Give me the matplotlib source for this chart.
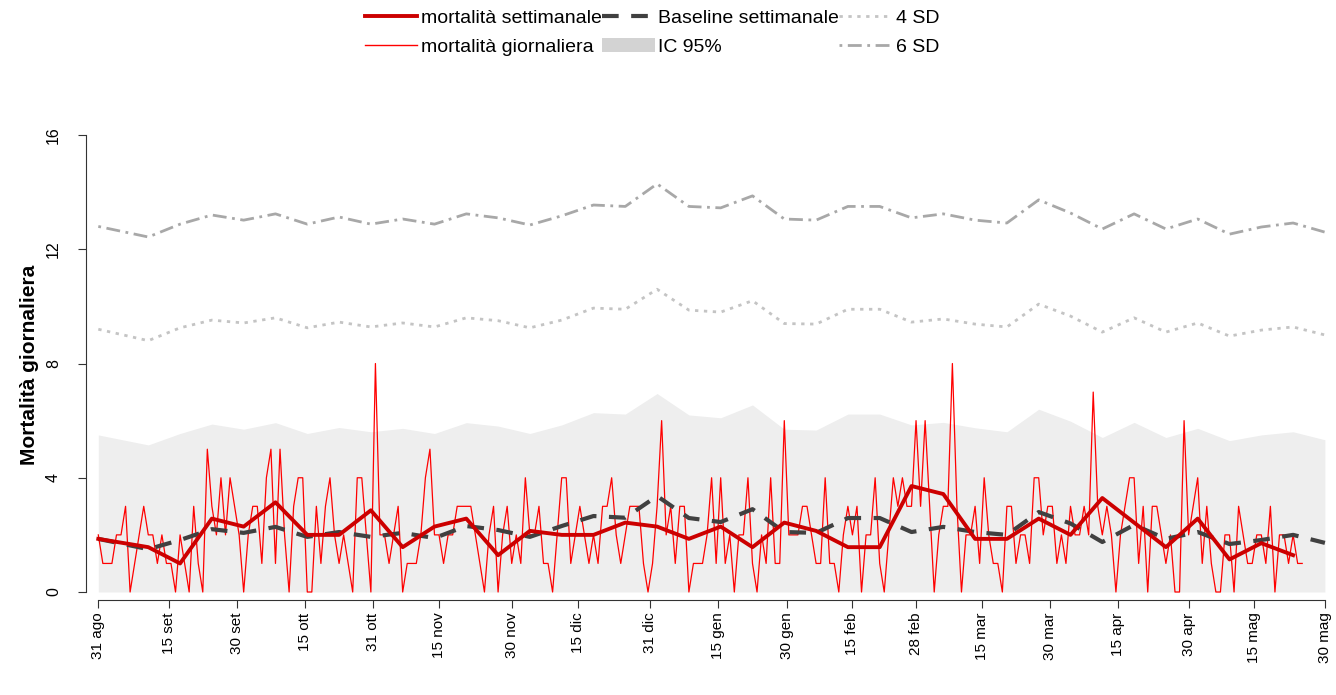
import matplotlib
matplotlib.use("Agg")
import matplotlib.pyplot as plt
from matplotlib.patches import Patch
from matplotlib.lines import Line2D
import numpy as np

plt.rcParams['font.family'] = ['Liberation Sans', 'DejaVu Sans']

# daily deaths, one value per day starting 31 Aug
daily = [2, 1, 1, 1, 2, 2, 3, 0, 1, 2,
         3, 2, 2, 1, 2, 1, 1, 0, 2, 1,
         0, 3, 1, 0, 5, 3, 2, 4, 2, 4,
         3, 2, 0, 2, 3, 3, 1, 4, 5, 1,
         5, 2, 0, 3, 4, 4, 0, 0, 3, 1,
         3, 4, 2, 1, 2, 1, 0, 4, 4, 2,
         0, 8, 2, 2, 1, 2, 3, 0, 1, 1,
         1, 2, 4, 5, 2, 2, 1, 2, 2, 3,
         3, 3, 3, 2, 1, 0, 2, 3, 0, 2,
         3, 1, 2, 1, 4, 2, 2, 3, 1, 1,
         0, 2, 4, 4, 1, 2, 3, 2, 1, 2,
         1, 3, 3, 4, 2, 1, 2, 3, 3, 3,
         1, 0, 1, 3, 6, 2, 3, 1, 3, 3,
         0, 1, 1, 1, 2, 4, 1, 4, 1, 2,
         0, 2, 2, 4, 1, 0, 2, 1, 4, 1,
         1, 6, 2, 2, 2, 3, 3, 2, 1, 1,
         4, 1, 1, 0, 2, 3, 2, 3, 0, 2,
         2, 4, 1, 0, 2, 4, 3, 4, 3, 3,
         6, 3, 6, 3, 0, 2, 3, 3, 8, 3,
         0, 2, 2, 3, 1, 4, 2, 1, 1, 0,
         3, 3, 1, 2, 2, 1, 4, 4, 2, 3,
         3, 1, 2, 1, 3, 2, 2, 3, 2, 7,
         3, 2, 3, 2, 0, 2, 3, 4, 4, 1,
         3, 0, 3, 3, 2, 1, 2, 0, 0, 6,
         2, 3, 4, 1, 3, 1, 0, 0, 2, 2,
         0, 3, 2, 1, 1, 2, 2, 1, 3, 0,
         2, 2, 1, 2, 1, 1]

# weekly points (day index)
week_days = [0] + list(range(11, 271, 7))

weekly = [1.86, 1.57, 1.0, 2.57, 2.29, 3.14, 2.0, 2.0, 2.86, 1.57,
          2.29, 2.57, 1.29, 2.14, 2.0, 2.0, 2.43, 2.29, 1.86, 2.29,
          1.57, 2.43, 2.14, 1.57, 1.57, 3.71, 3.43, 1.86, 1.86, 2.57,
          2.0, 3.29, 2.43, 1.57, 2.57, 1.14, 1.71, 1.29]

baseline = [1.86, 1.5, 1.82, 2.2, 2.07, 2.28, 1.93, 2.1, 1.93, 2.07,
            1.89, 2.31, 2.17, 1.93, 2.31, 2.66, 2.6, 3.36, 2.59, 2.45,
            2.9, 2.1, 2.07, 2.59, 2.59, 2.1, 2.28, 2.1, 2.0, 2.8,
            2.4, 1.75, 2.35, 1.86, 2.1, 1.68, 1.82, 2.0, 1.72]

ic95_upper = [5.5, 5.15, 5.55, 5.88, 5.7, 5.93, 5.55, 5.76, 5.61, 5.73,
              5.55, 5.93, 5.81, 5.55, 5.85, 6.28, 6.23, 6.95, 6.2, 6.1,
              6.55, 5.7, 5.67, 6.23, 6.23, 5.85, 5.94, 5.75, 5.61, 6.4,
              5.98, 5.41, 5.94, 5.41, 5.73, 5.3, 5.5, 5.61, 5.33]

sd4 = [9.2, 8.8, 9.25, 9.52, 9.42, 9.6, 9.25, 9.45, 9.28, 9.42,
       9.28, 9.6, 9.5, 9.25, 9.52, 9.94, 9.9, 10.6, 9.87, 9.8,
       10.2, 9.4, 9.38, 9.9, 9.9, 9.45, 9.56, 9.38, 9.28, 10.08,
       9.66, 9.1, 9.6, 9.1, 9.42, 8.96, 9.17, 9.28, 9.0]

sd6 = [12.8, 12.43, 12.88, 13.2, 13.02, 13.24, 12.88, 13.13, 12.88, 13.06,
       12.88, 13.24, 13.1, 12.85, 13.17, 13.55, 13.5, 14.29, 13.5, 13.45,
       13.87, 13.06, 13.02, 13.5, 13.5, 13.1, 13.24, 13.02, 12.92, 13.73,
       13.27, 12.71, 13.24, 12.71, 13.06, 12.53, 12.78, 12.92, 12.6]

tick_days = [0, 15.5, 30.5, 45.5, 60.5, 75, 91, 105.5, 121.5, 136.5,
             151.5, 166, 180, 194.5, 209.5, 224.5, 240, 254.5, 270]
tick_labels = ['31 ago', '15 set', '30 set', '15 ott', '31 ott', '15 nov',
               '30 nov', '15 dic', '31 dic', '15 gen', '30 gen', '15 feb',
               '28 feb', '15 mar', '30 mar', '15 apr', '30 apr', '15 mag',
               '30 mag']

days = np.arange(len(daily))
wd = np.array(week_days)

fig = plt.figure(figsize=(13.36, 6.95), dpi=100)
ax = fig.add_axes([86 / 1336, 1 - 600 / 695, 1244 / 1336, 470 / 695])

ax.fill_between(wd, 0, ic95_upper, color='#eeeeee', lw=0, zorder=1)
ax.plot(wd, sd6, color='#a8a8a8', lw=2, linestyle=(0, (1, 2, 5, 2)), zorder=2)
ax.plot(wd, sd4, color='#c4c4c4', lw=2, linestyle=(0, (1.2, 2)), zorder=2)
ax.plot(days, daily, color='#ff0000', lw=0.9, zorder=3)
ax.plot(wd, baseline, color='#404040', lw=3, linestyle=(0, (4, 3)), zorder=4)
ax.plot(wd[:len(weekly)], weekly, color='#cc0000', lw=2.8, zorder=5)

ax.set_xlim((86 - 98.3) / 4.543, (1330 - 98.3) / 4.543)
ax.set_ylim((592 - 600) / 28.56, (592 - 130) / 28.56)

for s in ['top', 'right']:
    ax.spines[s].set_visible(False)
ax.spines['left'].set_bounds(0, 16)
ax.spines['bottom'].set_bounds(0, 270)
ax.spines['left'].set_color('#333333')
ax.spines['bottom'].set_color('#333333')

ax.set_yticks([0, 4, 8, 12, 16])
ax.set_xticks(tick_days)
ax.set_xticklabels(tick_labels, rotation=90)
ax.tick_params(axis='y', length=6, pad=12, labelsize=11.5, labelrotation=90,
               color='#333333')
ax.tick_params(axis='x', length=6, pad=3, labelsize=11, color='#333333')
for lab in ax.get_yticklabels():
    lab.set_va('center')
    lab.set_ha('right')

fig.text(30 / 1336, 1 - 365 / 695, 'Mortalità giornaliera', rotation=90,
         ha='center', va='center', fontsize=15, fontweight='bold')

handles = [
    Line2D([], [], color='#cc0000', lw=2.8),
    Line2D([], [], color='#ff0000', lw=1),
    Line2D([], [], color='#404040', lw=3, linestyle=(0, (4, 3))),
    Patch(facecolor='#d3d3d3', edgecolor='none'),
    Line2D([], [], color='#c4c4c4', lw=2, linestyle=(0, (1.2, 2))),
    Line2D([], [], color='#a8a8a8', lw=2, linestyle=(0, (1, 2, 5, 2))),
]
labels = ['mortalità settimanale', 'mortalità giornaliera',
          'Baseline settimanale', 'IC 95%', '4 SD', '6 SD']
fig.legend(handles, labels, loc='upper center', bbox_to_anchor=(652 / 1336, 1.012),
           ncol=3, frameon=False, fontsize=14, handlelength=2.7,
           columnspacing=0.0, handletextpad=0.2, labelspacing=0.6)

fig.savefig('out.png', dpi=100)
